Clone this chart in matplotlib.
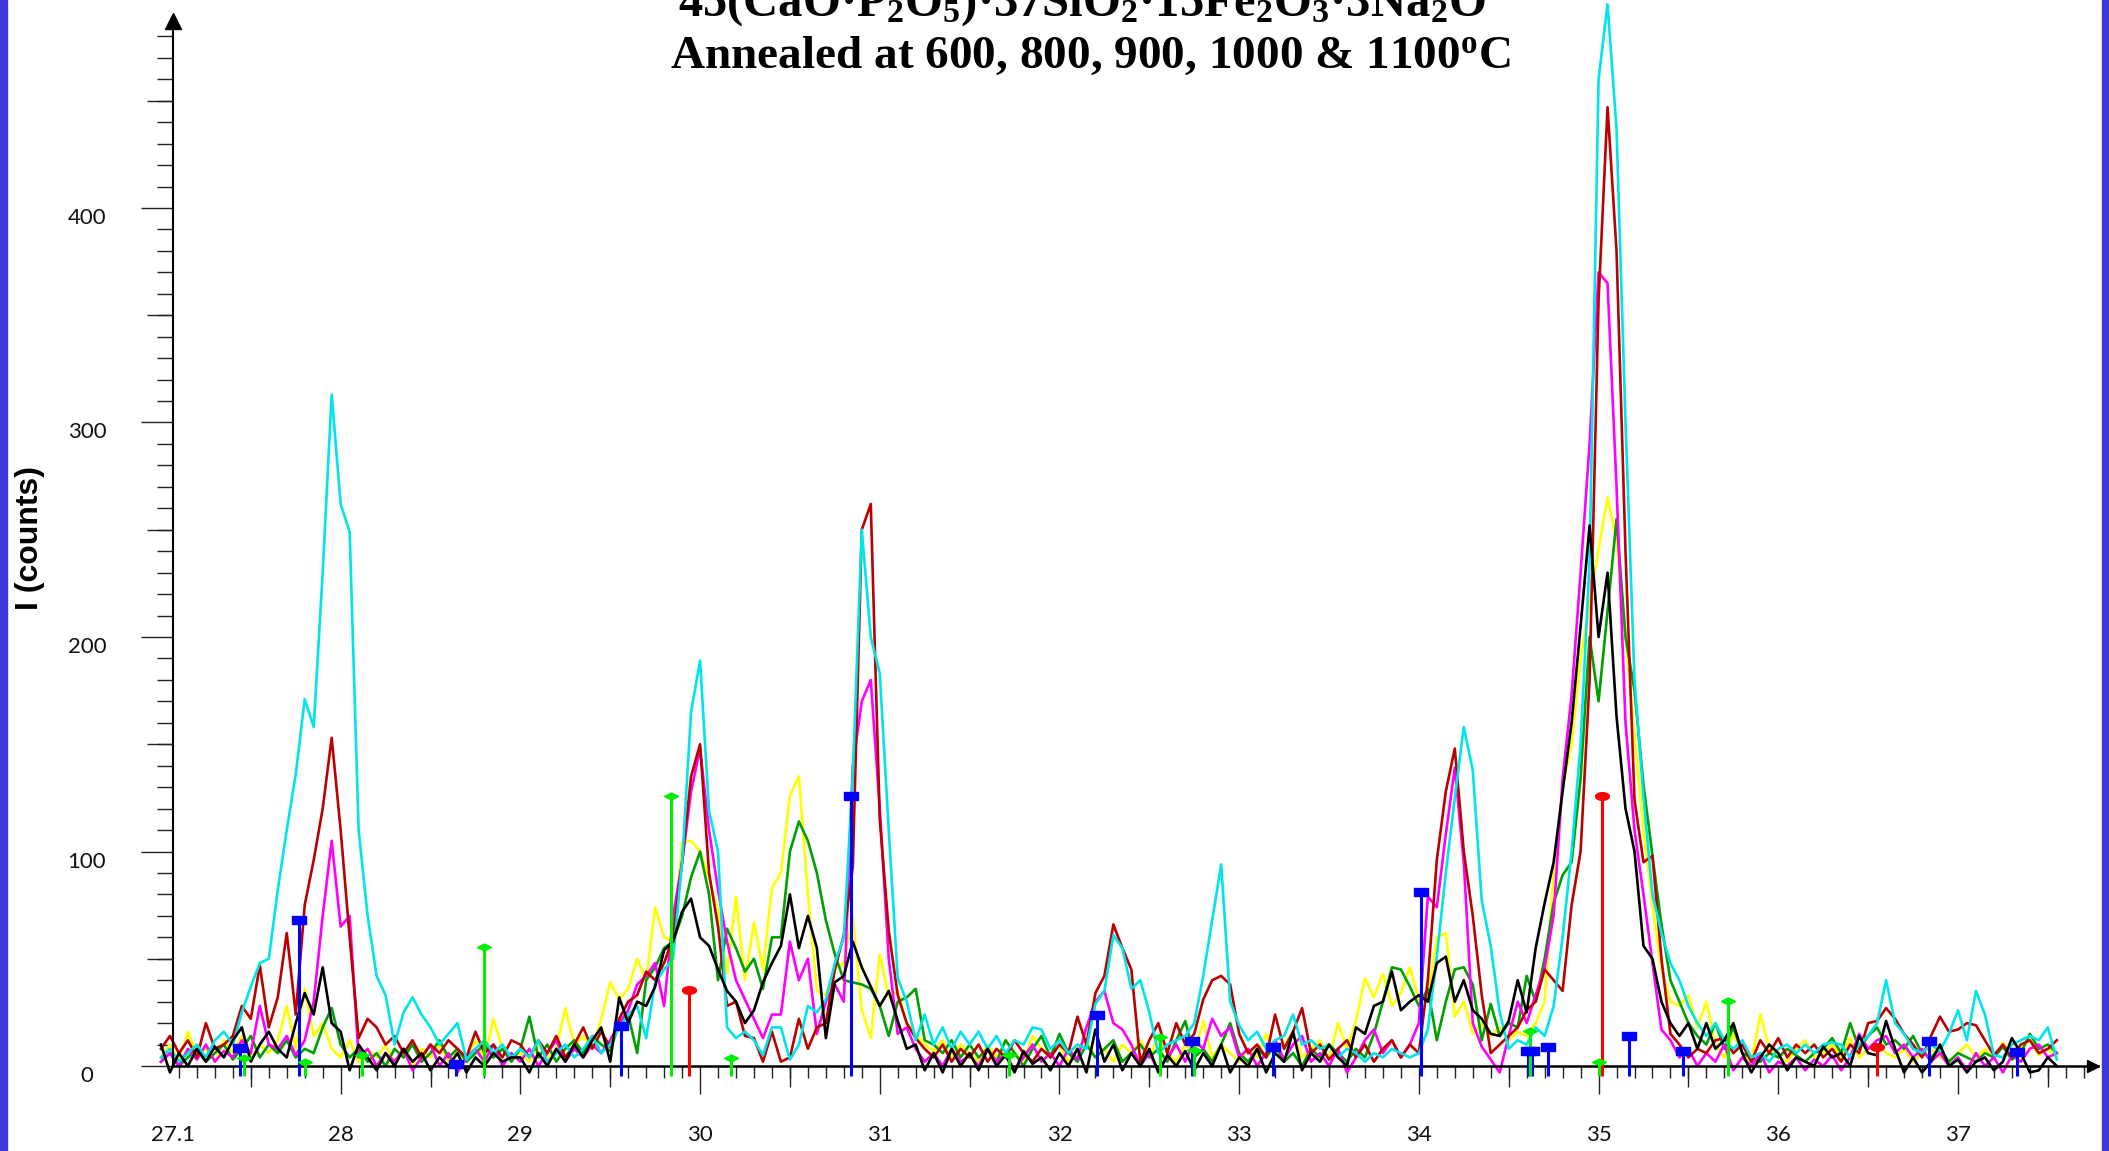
import numpy as np
import matplotlib
matplotlib.use("Agg")
import matplotlib.pyplot as plt
from matplotlib.ticker import FixedLocator, FixedFormatter, NullFormatter, MultipleLocator
from matplotlib.patches import Rectangle

# ---------------- data (2-theta grid 27.00 .. 37.55, step 0.05) ----------------
two_theta_start = 27.00
two_theta_step = 0.05

yellow_counts = [
    4, 10, 2, 16, 5, 8, 2, 12, 6, 14, 4, 10, 6, 12, 28, 8, 36, 14, 20, 8,
    4, 12, 2, 8, 4, 10, 2, 6, 0, 8, 4, 10, 2, 8, 4, 12, 3, 22, 8, 4,
    6, 2, 10, 4, 8, 27, 10, 14, 8, 22, 39, 31, 36, 50, 40, 74, 60, 58, 104, 105,
    100, 88, 72, 43, 79, 40, 67, 45, 83, 90, 126, 135, 80, 35, 33, 45, 48, 70, 26, 13,
    52, 32, 35, 20, 15, 10, 7, 12, 4, 10, 6, 2, 10, 4, 12, 6, 2, 14, 8, 4,
    10, 2, 8, 12, 4, 8, 2, 10, 6, 12, 4, 14, 6, 2, 10, 5, 21, 4, 10, 6,
    2, 8, 4, 15, 6, 10, 16, 4, 8, 12, 3, 20, 8, 21, 41, 32, 43, 28, 34, 46,
    31, 30, 60, 62, 23, 30, 15, 20, 14, 18, 12, 16, 14, 20, 30, 90, 130, 150, 190, 215,
    241, 265, 245, 200, 154, 110, 75, 45, 30, 28, 33, 18, 30, 10, 4, 15, 6, 2, 24, 8,
    4, 2, 8, 12, 4, 6, 10, 4, 13, 4, 8, 10, 6, 4, 8, 2, 6, 8, 4, 2,
    6, 10, 4, 8, 3, 11, 4, 8, 12, 5, 8, 4]

green_counts = [
    2, 6, 0, 4, 8, 2, 6, 10, 3, 8, 14, 4, 10, 6, 12, 4, 8, 6, 18, 27,
    10, 4, 8, 2, 6, 0, 8, 4, 10, 2, 6, 12, 4, 8, 2, 6, 10, 4, 8, 2,
    8, 23, 4, 10, 2, 8, 12, 6, 14, 10, 7, 20, 24, 6, 40, 46, 55, 58, 70, 88,
    100, 80, 40, 64, 55, 44, 50, 36, 60, 60, 100, 114, 105, 90, 68, 52, 40, 39, 38, 36,
    28, 14, 30, 32, 36, 12, 10, 6, 12, 4, 10, 4, 8, 2, 12, 6, 0, 8, 14, 4,
    15, 6, 2, 10, 4, 8, 12, 2, 6, 10, 4, 8, 2, 12, 21, 4, 8, 2, 10, 20,
    6, 2, 8, 4, 10, 2, 6, 0, 8, 4, 10, 6, 2, 8, 4, 15, 30, 46, 45, 37,
    28, 36, 12, 30, 45, 46, 38, 12, 29, 14, 20, 18, 42, 30, 50, 76, 89, 95, 134, 200,
    170, 212, 255, 200, 175, 131, 98, 66, 40, 30, 20, 14, 10, 20, 8, 18, 6, 4, 2, 6,
    4, 8, 5, 2, 6, 8, 13, 6, 20, 8, 14, 18, 10, 12, 8, 14, 6, 4, 8, 2,
    6, 4, 2, 6, 4, 9, 3, 6, 15, 8, 10, 6]

red_counts = [
    8, 14, 6, 12, 4, 20, 8, 10, 14, 28, 22, 47, 18, 32, 62, 24, 75, 96, 120, 153,
    110, 60, 13, 22, 18, 10, 14, 6, 12, 4, 10, 6, 12, 8, 4, 16, 6, 10, 4, 12,
    10, 4, 12, 6, 14, 4, 10, 18, 8, 16, 9, 22, 30, 33, 44, 40, 48, 60, 95, 135,
    150, 90, 65, 28, 30, 14, 13, 2, 16, 2, 4, 22, 8, 18, 20, 45, 61, 93, 250, 262,
    115, 63, 33, 20, 13, 8, 4, 10, 2, 8, 4, 10, 2, 8, 4, 12, 6, 2, 8, 4,
    10, 6, 23, 10, 34, 42, 66, 55, 45, 2, 12, 20, 6, 20, 10, 15, 31, 40, 42, 38,
    15, 6, 10, 4, 24, 8, 16, 27, 6, 10, 3, 8, 12, 4, 10, 2, 8, 12, 4, 10,
    6, 40, 96, 128, 148, 100, 70, 33, 6, 10, 14, 18, 26, 30, 45, 40, 35, 75, 100, 180,
    357, 447, 380, 240, 124, 95, 98, 50, 15, 10, 4, 8, 6, 12, 13, 6, 10, 2, 12, 6,
    13, 4, 10, 6, 10, 4, 8, 2, 10, 6, 20, 21, 27, 22, 15, 10, 4, 14, 23, 16,
    17, 20, 19, 12, 5, 10, 4, 10, 12, 6, 8, 12]

magenta_counts = [
    2, 6, 0, 8, 3, 10, 2, 7, 4, 12, 6, 28, 10, 8, 14, 5, 12, 30, 70, 105,
    65, 70, 4, 8, 0, 6, 2, 8, -2, 4, 10, 0, 6, -3, 4, 8, 2, 10, 0, 6,
    2, 8, 0, 6, 12, 2, 8, 4, 10, 6, 12, 20, 26, 38, 42, 48, 28, 70, 95, 128,
    148, 110, 82, 58, 40, 31, 22, 13, 24, 24, 58, 40, 50, 15, 30, 38, 30, 140, 170, 180,
    120, 50, 15, 18, 8, 2, 6, 0, 8, 2, 5, 0, 8, 2, 6, -2, 4, 10, 2, 6,
    0, 8, 3, 18, 30, 35, 20, 17, 10, 0, 6, -2, 4, 10, 2, 12, 8, 22, 14, 18,
    4, 8, 0, 6, 12, 3, 10, 14, 2, 6, 0, 8, -3, 4, 12, 17, 6, 12, 4, 10,
    20, 79, 74, 108, 139, 95, 20, 9, 3, -3, 14, 30, 20, 33, 46, 70, 134, 173, 230, 290,
    370, 365, 270, 160, 110, 80, 48, 17, 12, 4, 8, 0, 6, 2, 10, -2, 4, 0, 6, -3,
    2, 0, 4, -2, 3, 0, 5, -2, 4, 15, 8, 12, 14, 6, 10, 4, 8, 2, 6, 0,
    4, -2, 6, 0, 4, -3, 5, 2, 8, 10, 4, 6]

cyan_counts = [
    4, 8, 2, 6, 10, 4, 12, 16, 10, 25, 37, 48, 50, 82, 110, 136, 171, 158, 230, 313,
    262, 249, 110, 70, 42, 33, 10, 25, 32, 24, 18, 10, 15, 20, 3, 8, 12, 6, 10, 4,
    8, 4, 12, 2, 6, 10, 4, 8, 14, 6, 10, 18, 24, 28, 13, 39, 45, 50, 95, 165,
    189, 119, 100, 18, 13, 16, 12, 5, 18, 18, 3, 10, 28, 25, 31, 48, 60, 136, 250, 200,
    183, 110, 41, 30, 12, 24, 10, 18, 8, 16, 10, 16, 8, 14, 6, 12, 10, 18, 17, 8,
    12, 6, 10, 8, 29, 35, 61, 55, 36, 40, 25, 6, 10, 12, 14, 20, 42, 68, 94, 30,
    19, 12, 16, 8, 12, 14, 24, 10, 12, 8, 10, 4, 8, 6, 2, 6, 4, 8, 6, 4,
    6, 17, 51, 90, 125, 158, 138, 77, 56, 25, 8, 12, 10, 18, 14, 28, 60, 100, 150, 235,
    460, 495, 437, 300, 180, 125, 80, 62, 48, 40, 28, 20, 14, 20, 12, 8, 12, 4, 6, 2,
    8, 10, 6, 10, 6, 10, 11, 10, 4, 10, 14, 20, 40, 20, 15, 8, 6, 10, 7, 15,
    26, 12, 35, 24, 5, 4, 10, 12, 14, 12, 18, 3]

black_counts = [
    10, -3, 6, 0, 8, 2, 9, 4, 12, 18, 2, 10, 16, 8, 4, 20, 34, 24, 46, 20,
    16, -2, 10, 4, -2, 6, 0, 8, 2, 6, -2, 4, 0, 6, -3, 4, 0, 6, 2, 4,
    4, -3, 6, 0, 8, 2, 10, 4, 12, 18, 2, 32, 20, 30, 28, 37, 54, 58, 72, 78,
    60, 56, 45, 35, 30, 20, 26, 39, 48, 56, 80, 55, 70, 55, 13, 39, 42, 58, 46, 37,
    28, 35, 21, 8, 10, -2, 6, -3, 8, 0, 6, -2, 8, 0, 5, -3, 7, 1, 4, -2,
    6, 0, 8, -3, 17, 2, 10, -2, 6, 0, 8, -3, 5, 0, 7, -2, 6, 0, 10, -3,
    4, 0, 8, -3, 6, 2, 16, -2, 6, 2, 10, 4, 0, 18, 15, 28, 30, 44, 26, 30,
    33, 30, 48, 51, 30, 40, 26, 22, 15, 14, 21, 40, 25, 55, 76, 95, 128, 160, 205, 252,
    200, 230, 163, 120, 100, 56, 50, 30, 20, 14, 20, 8, 20, 8, 12, 20, 6, -3, 4, 10,
    6, -2, 4, 2, 0, 9, 4, 6, 0, 14, 6, 5, 21, 8, -3, 4, -3, 2, 10, 0,
    3, -3, 2, 4, -2, 2, 13, 6, -3, -2, 4, 0]

# reference pattern sticks (position, relative height in counts)
blue_stick_pos = [27.44, 27.77, 28.64, 29.56, 30.84, 32.21, 32.74, 33.19, 34.01,
                  34.61, 34.63, 34.72, 35.17, 35.47, 36.84, 37.33]
blue_stick_int = [8.5, 68, 1, 18.6, 126, 24, 11.7, 8.9, 81,
                  7, 7, 9, 14, 7, 11.7, 6.5]
red_stick_pos = [29.94, 35.02, 36.55]
red_stick_int = [35.4, 126, 9]
green_stick_pos = [27.46, 27.80, 28.12, 28.80, 29.84, 30.17, 31.72, 32.56, 32.75,
                   34.62, 35.00, 35.72]
green_stick_int = [3.7, 2, 5, 55.5, 126, 3.7, 5, 13.5, 7.5, 16.3, 2, 30.4]
stick_base = -4.5

x_tick_values = [28, 29, 30, 31, 32, 33, 34, 35, 36, 37]
x_tick_labels = ['28', '29', '30', '31', '32', '33', '34', '35', '36', '37']
x_origin_label = '27.1'
y_tick_values = [0, 100, 200, 300, 400]
y_tick_labels = ['0', '100', '200', '300', '400']

title_line1 = '45(CaO·P$_2$O$_5$)·37SiO$_2$·15Fe$_2$O$_3$·3Na$_2$O'
title_line2 = 'Annealed at 600, 800, 900, 1000 & 1100$^{\\mathrm{o}}$C'
y_label = 'I (counts)'

# ---------------- layout ----------------
W, H = 2109, 1151
PX_PER_DEG = 179.7
PX_PER_COUNT = 2.145
AX_LEFT_PX, AX_RIGHT_PX = 173, 2098
ZERO_PX = 1066
AX_BOTTOM_PX = 1085

plt.rcParams['font.family'] = ['Lato', 'DejaVu Sans']
plt.rcParams['font.weight'] = 'normal'
plt.rcParams['mathtext.fontset'] = 'custom'
plt.rcParams['mathtext.rm'] = 'Liberation Serif:bold'
plt.rcParams['mathtext.it'] = 'Liberation Serif:bold'
plt.rcParams['mathtext.bf'] = 'Liberation Serif:bold'

fig = plt.figure(figsize=(W / 100, H / 100), dpi=100)
fig.patch.set_facecolor('white')
rect = [AX_LEFT_PX / W, (H - AX_BOTTOM_PX) / H,
        (AX_RIGHT_PX - AX_LEFT_PX) / W, AX_BOTTOM_PX / H]
ax = fig.add_axes(rect)
x0 = 27.067
x1 = x0 + (AX_RIGHT_PX - AX_LEFT_PX) / PX_PER_DEG
y0 = -(AX_BOTTOM_PX - ZERO_PX) / PX_PER_COUNT
y1 = ZERO_PX / PX_PER_COUNT
y_axis_top = 487

two_theta = np.round(two_theta_start + two_theta_step * np.arange(len(yellow_counts)), 2)

series = [
    (yellow_counts, '#FFFF00'),
    (green_counts, '#00A000'),
    (magenta_counts, '#FF00FF'),
    (red_counts, '#BB0000'),
    (cyan_counts, '#00E4EC'),
    (black_counts, '#000000'),
]
for vals, col in series:
    ax.plot(two_theta, vals, color=col, lw=1.9, clip_on=False, zorder=2)

# stick markers
rect_marker = [(-1, -0.55), (1, -0.55), (1, 0.55), (-1, 0.55), (-1, -0.55)]
tt = np.linspace(0, 2 * np.pi, 40)
ellipse_marker = list(zip(np.cos(tt), 0.55 * np.sin(tt)))
diamond_marker = [(-1, 0), (0, 0.5), (1, 0), (0, -0.5), (-1, 0)]
for pos, ints, col, mk in [
        (blue_stick_pos, blue_stick_int, '#0000FF', rect_marker),
        (red_stick_pos, red_stick_int, '#FF0000', ellipse_marker),
        (green_stick_pos, green_stick_int, '#00EE00', diamond_marker)]:
    ax.vlines(pos, stick_base, ints, colors=col, lw=2.2, zorder=4)
    ax.plot(pos, ints, ls='none', marker=mk, ms=10, color=col, mec=col, zorder=5)

ax.set_xlim(x0, x1)
ax.set_ylim(y0, y1)
ax.patch.set_visible(False)

for s in ['top', 'right']:
    ax.spines[s].set_visible(False)
ax.spines['bottom'].set_position(('data', 0))
ax.spines['bottom'].set_linewidth(1.8)
ax.spines['left'].set_linewidth(1.5)
ax.spines['left'].set_bounds(0, y_axis_top)
ax.spines['bottom'].set_zorder(3)

TICK_COL = '#222222'
ax.xaxis.set_major_locator(FixedLocator([x0] + x_tick_values))
ax.xaxis.set_major_formatter(FixedFormatter([x_origin_label] + x_tick_labels))
ax.xaxis.set_minor_locator(MultipleLocator(0.1))
ax.yaxis.set_major_locator(FixedLocator(y_tick_values))
ax.yaxis.set_major_formatter(FixedFormatter(y_tick_labels))
ax.yaxis.set_minor_locator(FixedLocator(np.arange(10, 481, 10)))

ax.tick_params(axis='x', which='major', direction='out', length=28 * 0.72, width=1.0,
               color=TICK_COL, pad=22, labelsize=16, labelcolor='#111111')
ax.tick_params(axis='x', which='minor', direction='out', length=12 * 0.72, width=1.0,
               color=TICK_COL)
ax.tick_params(axis='y', which='major', direction='out', length=32 * 0.72, width=1.0,
               color=TICK_COL, pad=39, labelsize=16, labelcolor='#111111')
ax.tick_params(axis='y', which='minor', direction='out', length=16 * 0.72, width=1.0,
               color=TICK_COL)

ax.xaxis.get_major_ticks()[0].tick1line.set_visible(False)
for lbl in ax.get_yticklabels():
    lbl.set_verticalalignment('top')
    lbl.set_horizontalalignment('center')

# medium ticks (every 0.5 deg / 50 counts)
axm = fig.add_axes(rect, label='medium')
axm.set_xlim(x0, x1)
axm.set_ylim(y0, y1)
axm.patch.set_visible(False)
for s in axm.spines.values():
    s.set_visible(False)
axm.spines['bottom'].set_position(('data', 0))
axm.xaxis.set_major_locator(FixedLocator(np.arange(27.5, 37.6, 1.0)))
axm.yaxis.set_major_locator(FixedLocator(np.arange(50, 451, 100)))
axm.xaxis.set_major_formatter(NullFormatter())
axm.yaxis.set_major_formatter(NullFormatter())
axm.tick_params(axis='x', direction='out', length=21 * 0.72, width=1.0, color=TICK_COL)
axm.tick_params(axis='y', direction='out', length=26.5 * 0.72, width=1.0, color=TICK_COL)

# axis arrows
ax.plot([x0], [y_axis_top], marker='^', ms=11, color='black', clip_on=False, zorder=6)
ax.plot([x1 - 5 / PX_PER_DEG], [0], marker='>', ms=9, color='black', clip_on=False, zorder=6)

# texts
fig.text(30 / W, 1 - 538 / H, y_label, rotation=90, ha='center', va='center',
         family='Liberation Sans', weight='bold', size=23)
fig.text(1082 / W, 1 - 16 / H, title_line1, ha='center', va='baseline',
         family='Liberation Serif', weight='bold', size=35)
fig.text(1090 / W, 1 - 68 / H, title_line2, ha='center', va='baseline',
         family='Liberation Serif', weight='bold', size=34)

# blue frame bars
BORDER = '#3C38D4'
fig.patches.append(Rectangle((0, 0), 7 / W, 1, transform=fig.transFigure,
                             color=BORDER, zorder=10))
fig.patches.append(Rectangle((2102 / W, 0), 7 / W, 1, transform=fig.transFigure,
                             color=BORDER, zorder=10))

fig.savefig('out.png', dpi=100, facecolor='white')
